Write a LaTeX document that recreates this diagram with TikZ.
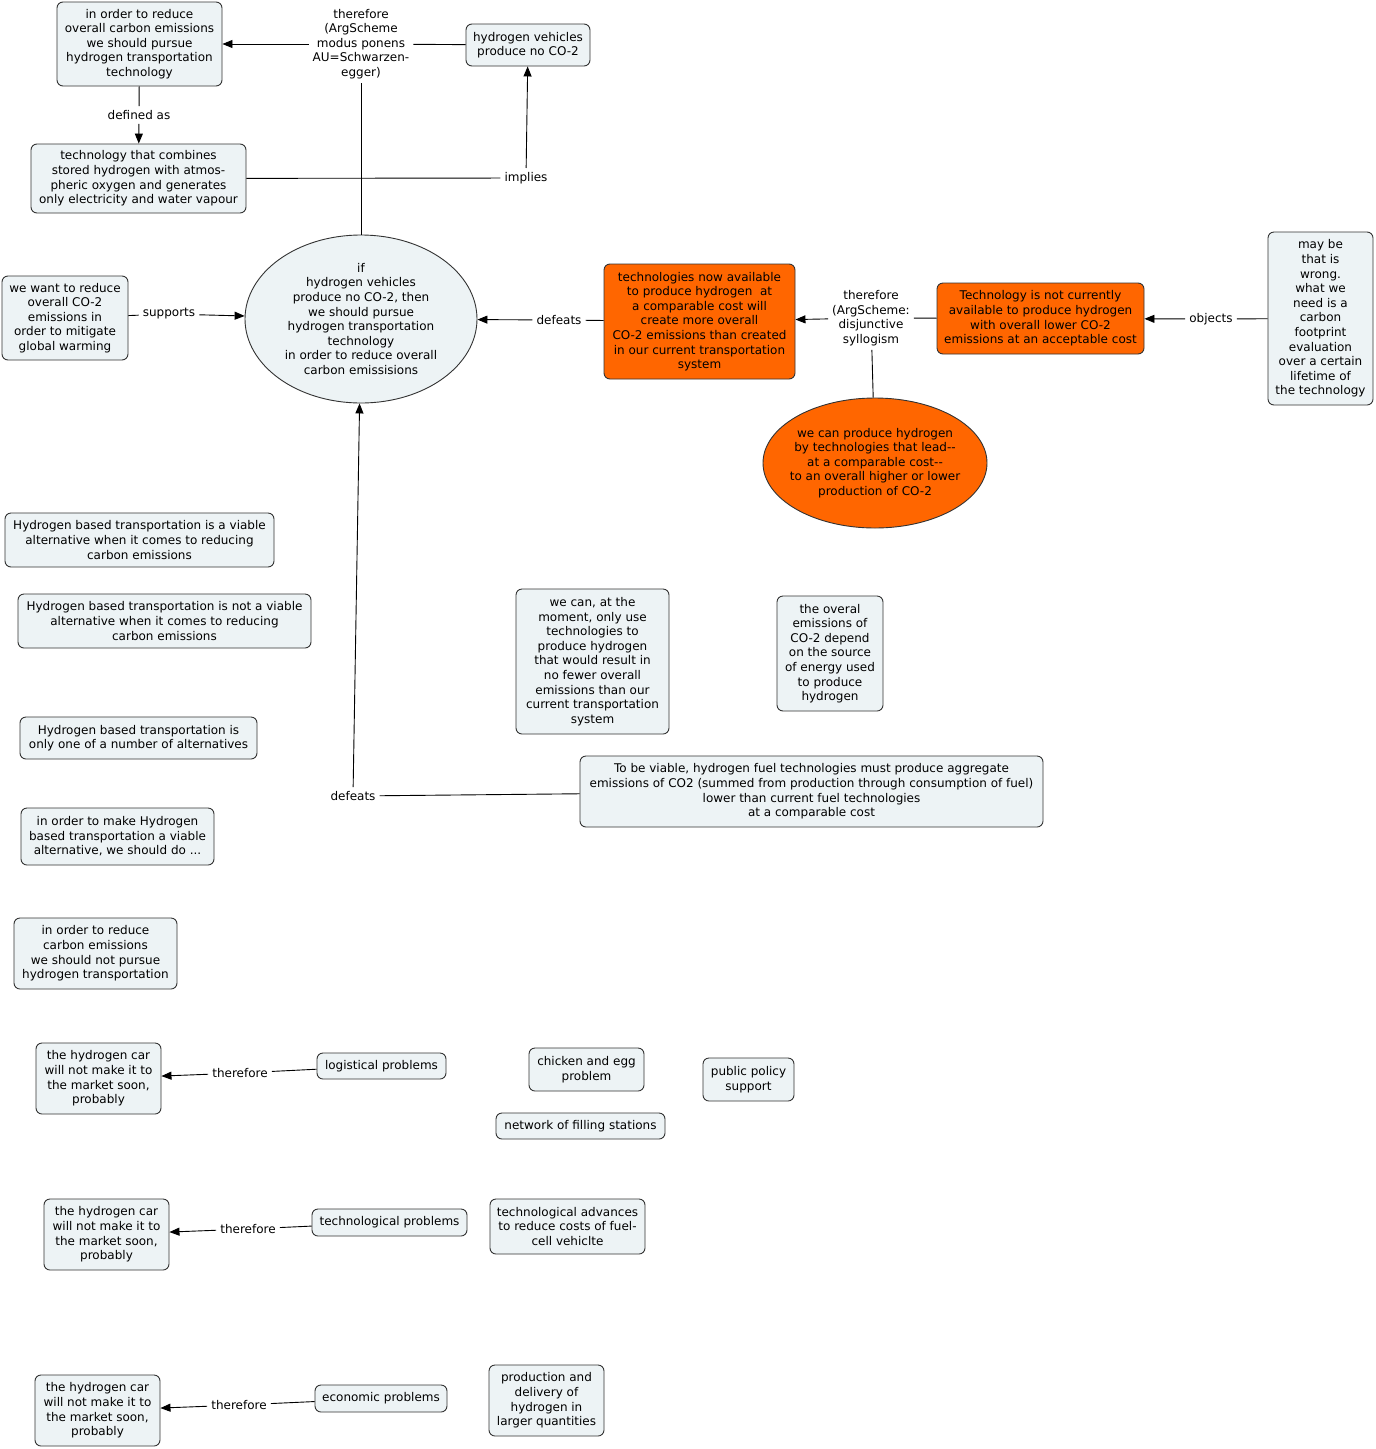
\documentclass[tikz,border=0pt]{standalone}
\usepackage{fontspec}
\setmainfont{DejaVu Sans}
\usetikzlibrary{arrows.meta,shapes.geometric}
\definecolor{boxfill}{HTML}{EDF3F5}
\definecolor{boxline}{HTML}{333333}
\definecolor{orng}{HTML}{FF6600}
\begin{document}
\begin{tikzpicture}[x=1pt,y=-1pt,
  every node/.style={font=\fontsize{12}{14.6}\selectfont, align=center},
  cbox/.style={draw=boxline, fill=boxfill, rounded corners=6pt, line width=0.9pt, inner sep=2pt},
  obox/.style={draw=boxline, fill=orng, rounded corners=6pt, line width=0.9pt, inner sep=2pt},
  cell/.style={ellipse, draw=boxline, fill=boxfill, line width=0.9pt, inner sep=0pt},
  oell/.style={ellipse, draw=boxline, fill=orng, line width=0.9pt, inner ysep=0pt, inner xsep=-8pt},
  lbl/.style={inner sep=4pt},
  conn/.style={line width=0.9pt, black},
  arr/.style={conn, -{Triangle[length=10pt,width=8pt]}}
]
\useasboundingbox[fill=white] (0,0) rectangle (1376,1449);

% concept nodes
\node[cbox, minimum width=165, minimum height=84] (A) at (139.5,44) {in order to reduce\\overall carbon emissions\\we should pursue\\hydrogen transportation\\technology};
\node[cbox, minimum width=124, minimum height=42] (B) at (528,45) {hydrogen vehicles\\produce no CO-2};
\node[cbox, minimum width=215, minimum height=69] (C) at (138.5,178.5) {technology that combines\\stored hydrogen with atmos-\\pheric oxygen and generates\\only electricity and water vapour};
\node[cell, minimum width=232, minimum height=168] (E) at (361,319) {if\\hydrogen vehicles\\produce no CO-2, then\\we should pursue\\hydrogen transportation\\technology\\in order to reduce overall\\carbon emissisions};
\node[cbox, minimum width=126, minimum height=84] (W) at (65,318) {we want to reduce\\overall CO-2\\emissions in\\order to mitigate\\global warming};
\node[obox, minimum width=191, minimum height=115] (T) at (699.5,321.5) {technologies now available\\to produce hydrogen\ \ at\\a comparable cost will\\create more overall\\CO-2 emissions than created\\in our current transportation\\system};
\node[obox, minimum width=207, minimum height=71] (N) at (1040.5,318.5) {Technology is not currently\\available to produce hydrogen\\with overall lower CO-2\\emissions at an acceptable cost};
\node[cbox, minimum width=105, minimum height=173] (M) at (1320.5,318.5) {may be\\that is\\wrong.\\what we\\need is a\\carbon\\footprint\\evaluation\\over a certain\\lifetime of\\the technology};
\node[oell, minimum width=224, minimum height=130] (O) at (875,463) {we can produce hydrogen\\by technologies that lead-{}-\\at a comparable cost-{}-\\to an overall higher or lower\\production of CO-2};

\node[cbox, minimum width=269, minimum height=54] (H1) at (139.5,540) {Hydrogen based transportation is a viable\\alternative when it comes to reducing\\carbon emissions};
\node[cbox, minimum width=293, minimum height=54] (H2) at (164.5,621) {Hydrogen based transportation is not a viable\\alternative when it comes to reducing\\carbon emissions};
\node[cbox, minimum width=237, minimum height=42] (H3) at (138.5,738) {Hydrogen based transportation is\\only one of a number of alternatives};
\node[cbox, minimum width=193, minimum height=57] (H4) at (117.5,836.5) {in order to make Hydrogen\\based transportation a viable\\alternative, we should do ...};
\node[cbox, minimum width=163, minimum height=71] (H5) at (95.5,953.5) {in order to reduce\\carbon emissions\\we should not pursue\\hydrogen transportation};

\node[cbox, minimum width=153, minimum height=145] (WC) at (592.5,661.5) {we can, at the\\moment, only use\\technologies to\\produce hydrogen\\that would result in\\no fewer overall\\emissions than our\\current transportation\\system};
\node[cbox, minimum width=106, minimum height=115] (OV) at (830,653.5) {the overal\\emissions of\\CO-2 depend\\on the source\\of energy used\\to produce\\hydrogen};
\node[cbox, minimum width=463, minimum height=71] (TB) at (811.5,791.5) {To be viable, hydrogen fuel technologies must produce aggregate\\emissions of CO2 (summed from production through consumption of fuel)\\lower than current fuel technologies\\at a comparable cost};

\node[cbox, minimum width=125, minimum height=71] (HC1) at (98.5,1078.5) {the hydrogen car\\will not make it to\\the market soon,\\probably};
\node[cbox, minimum width=129, minimum height=26] (LP) at (381.5,1066) {logistical problems};
\node[cbox, minimum width=115, minimum height=43] (CE) at (586.5,1069.5) {chicken and egg\\problem};
\node[cbox, minimum width=91, minimum height=43] (PP) at (748.5,1079.5) {public policy\\support};
\node[cbox, minimum width=169, minimum height=26] (NF) at (580.5,1126) {network of filling stations};

\node[cbox, minimum width=125, minimum height=71] (HC2) at (106.5,1234.5) {the hydrogen car\\will not make it to\\the market soon,\\probably};
\node[cbox, minimum width=155, minimum height=27] (TP) at (389.5,1222.5) {technological problems};
\node[cbox, minimum width=155, minimum height=55] (TA) at (567.5,1226.5) {technological advances\\to reduce costs of fuel-\\cell vehiclte};

\node[cbox, minimum width=125, minimum height=71] (HC3) at (97.5,1410.5) {the hydrogen car\\will not make it to\\the market soon,\\probably};
\node[cbox, minimum width=132, minimum height=27] (EP) at (381,1398.5) {economic problems};
\node[cbox, minimum width=115, minimum height=71] (PD) at (546.5,1400.5) {production and\\delivery of\\hydrogen in\\larger quantities};

% link labels
\node[lbl] (L1) at (361,44) {therefore\\(ArgScheme\\modus ponens\\AU=Schwarzen-\\egger)};
\node[lbl] (L2) at (139,115) {defined as};
\node[lbl] (L3) at (526,178) {implies};
\node[lbl] (L4) at (169,314) {supports};
\node[lbl] (L5) at (559,320) {defeats};
\node[lbl] (L6) at (871,318) {therefore\\(ArgScheme:\\disjunctive\\syllogism};
\node[lbl] (L7) at (1211,319) {objects};
\node[lbl] (L8) at (353,796) {defeats};
\node[lbl] (L9) at (240,1073) {therefore};
\node[lbl] (L10) at (248,1229) {therefore};
\node[lbl] (L11) at (239,1405) {therefore};

% connectors
\draw[conn] (B) -- (L1);
\draw[arr] (L1) -- (A);
\draw[conn] (L1) -- (E);
\draw[conn] (A) -- (L2);
\draw[arr] (L2) -- (C);
\draw[conn] (C) -- (L3);
\draw[arr] (L3) -- (B);
\draw[conn] (W) -- (L4);
\draw[arr] (L4) -- (E);
\draw[conn] (T) -- (L5);
\draw[arr] (L5) -- (E);
\draw[conn] (N) -- (L6);
\draw[arr] (L6) -- (T);
\draw[conn] (O) -- (L6);
\draw[conn] (M) -- (L7);
\draw[arr] (L7) -- (N);
\draw[conn] (TB) -- (L8);
\draw[arr] (L8) -- (E);
\draw[conn] (LP) -- (L9);
\draw[arr] (L9) -- (HC1);
\draw[conn] (TP) -- (L10);
\draw[arr] (L10) -- (HC2);
\draw[conn] (EP) -- (L11);
\draw[arr] (L11) -- (HC3);
\end{tikzpicture}
\end{document}
